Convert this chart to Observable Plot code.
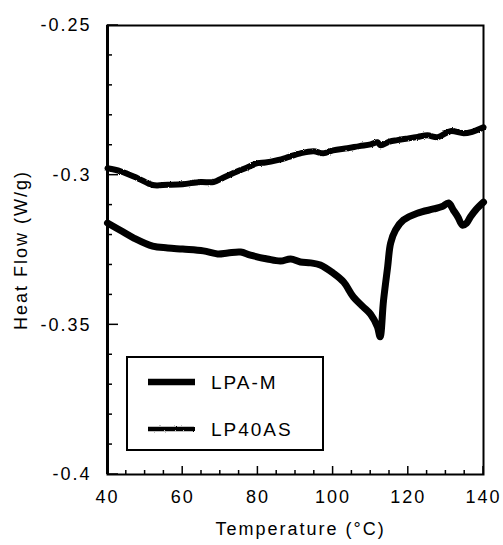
<!DOCTYPE html>
<html><head><meta charset="utf-8">
<script src="https://cdn.jsdelivr.net/npm/d3@7"></script>
<script src="https://cdn.jsdelivr.net/npm/@observablehq/plot@0.6"></script>
<style>
body{margin:0;background:#fff;}
#chart svg{display:block;}
</style></head><body><div id="chart"></div>
<script>
// ---- data ----
const seriesNames = ["LPA-M", "LP40AS"];
const tempLPAM = [40, 43.5, 47, 52, 56, 60, 65.5, 69.3, 72, 75.4, 78, 82.5, 86, 88.7, 91.3, 94, 96.6, 100, 102.8, 105.4, 108, 110, 111.8, 112.5, 113.4, 114.5, 115.3, 116.6, 118.7, 122.4, 126.7, 129, 130.7, 132, 133.2, 134.4, 135.5, 136.5, 138, 140];
const heatLPAM = [-0.316, -0.3185, -0.321, -0.3237, -0.3243, -0.3247, -0.3253, -0.3263, -0.326, -0.3257, -0.3267, -0.328, -0.3287, -0.328, -0.329, -0.3293, -0.33, -0.3327, -0.3357, -0.3407, -0.344, -0.3465, -0.3507, -0.354, -0.342, -0.3307, -0.3227, -0.3183, -0.315, -0.3127, -0.3113, -0.3105, -0.3093, -0.3117, -0.314, -0.3167, -0.316, -0.314, -0.3115, -0.309];
const tempLP40AS = [40, 43.5, 48, 52, 56, 60, 64.7, 68.2, 70.5, 73.5, 77, 79.9, 82, 85.2, 88, 91.3, 94.8, 97.4, 100, 103.8, 107, 110, 111.8, 112.6, 115, 117.1, 120, 122.5, 125.1, 127.8, 131.2, 134.7, 137, 140];
const heatLP40AS = [-0.2977, -0.2987, -0.301, -0.3033, -0.3032, -0.303, -0.3023, -0.3023, -0.301, -0.2993, -0.2975, -0.296, -0.2958, -0.295, -0.294, -0.2927, -0.292, -0.2927, -0.2917, -0.291, -0.2903, -0.2897, -0.289, -0.290, -0.2888, -0.2883, -0.2877, -0.2872, -0.2867, -0.2873, -0.2853, -0.286, -0.2855, -0.284];

const xTicks = [40, 60, 80, 100, 120, 140];
const xTickLabels = ["40", "60", "80", "100", "120", "140"];
const xMinorTicks = [45, 50, 55, 65, 70, 75, 85, 90, 95, 105, 110, 115, 125, 130, 135];
const yTicks = [-0.4, -0.35, -0.3, -0.25];
const yTickLabels = ["-0.4", "-0.35", "-0.3", "-0.25"];
const yMinorTicks = [-0.39, -0.38, -0.37, -0.36, -0.34, -0.33, -0.32, -0.31, -0.29, -0.28, -0.27, -0.26];
const xTitle = "Temperature (\u00B0C)";
const yTitle = "Heat Flow (W/g)";

const lpam = tempLPAM.map((t, i) => ({t, v: heatLPAM[i]}));
const lp40 = tempLP40AS.map((t, i) => ({t, v: heatLP40AS[i]}));

const font = "'Liberation Sans', Arial, Helvetica, sans-serif";

const chart = Plot.plot({
  width: 503, height: 545,
  marginLeft: 107, marginRight: 20, marginTop: 25, marginBottom: 71,
  style: {fontFamily: font, fontSize: "18px", color: "#000", background: "#fff", letterSpacing: "2px"},
  x: {domain: [40, 140]},
  y: {domain: [-0.4, -0.25]},
  marks: [
    Plot.axisX(xTicks, {tickSize: 0, tickPadding: 16, tickFormat: d => xTickLabels[xTicks.indexOf(d)], label: null, fontSize: 18}),
    Plot.axisY(yTicks, {tickSize: 0, tickPadding: 16, tickFormat: d => yTickLabels[yTicks.indexOf(d)], label: null, fontSize: 18}),
    Plot.frame({stroke: "#000", strokeWidth: 2}),
    Plot.ruleX([40], {stroke: "#000", strokeWidth: 3}),
    Plot.line(lpam, {x: "t", y: "v", stroke: "#000", strokeWidth: 7, strokeLinejoin: "round", strokeLinecap: "round", curve: "catmull-rom"}),
    Plot.line(lp40, {x: "t", y: "v", stroke: "#000", strokeWidth: 6, strokeLinejoin: "round", strokeLinecap: "round", curve: "catmull-rom"}),
    Plot.text([xTitle], {text: d => d, frameAnchor: "bottom", dy: 60, dx: 5, fontSize: 18}),
    Plot.text([yTitle], {text: d => d, frameAnchor: "left", textAnchor: "middle", rotate: -90, dx: -86, fontSize: 18})
  ]
});
document.getElementById("chart").appendChild(chart);

const svg = d3.select(chart);
const xs = chart.scale("x"), ys = chart.scale("y");
const sx = d3.scaleLinear().domain(xs.domain).range(xs.range);
const sy = d3.scaleLinear().domain(ys.domain).range(ys.range);
const x0 = sx(40), y0 = sy(-0.4);

// inward tick marks drawn from the plot's own scales
const tg = svg.append("g");
function tick(x1, y1, x2, y2) {
  tg.append("line").attr("x1", x1).attr("y1", y1).attr("x2", x2).attr("y2", y2)
    .attr("stroke", "#000").attr("stroke-width", 1.5);
}
xTicks.forEach(v => tick(sx(v), y0, sx(v), y0 - 8));
xMinorTicks.forEach(v => tick(sx(v), y0, sx(v), y0 - 4));
yTicks.forEach(v => tick(x0, sy(v), x0 + 11, sy(v)));
yMinorTicks.forEach(v => tick(x0, sy(v), x0 + 5, sy(v)));

// rough texture for the traced line
const defs = svg.insert("defs", ":first-child");
const f = defs.append("filter").attr("id", "rough").attr("filterUnits", "userSpaceOnUse")
  .attr("x", 0).attr("y", 0).attr("width", 503).attr("height", 545);
f.append("feTurbulence").attr("type", "fractalNoise").attr("baseFrequency", 0.9).attr("numOctaves", 1).attr("seed", 4).attr("result", "n");
f.append("feDisplacementMap").attr("in", "SourceGraphic").attr("in2", "n").attr("scale", 2.5).attr("xChannelSelector", "R").attr("yChannelSelector", "G");
const lines = svg.selectAll('g[aria-label="line"]').nodes();
if (lines[1]) d3.select(lines[1]).attr("filter", "url(#rough)");

// legend
const lg = svg.append("g").attr("font-family", font).attr("font-size", 19).attr("letter-spacing", "2px").attr("text-anchor", "start");
lg.append("rect").attr("x", 127).attr("y", 357).attr("width", 196).attr("height", 93)
  .attr("fill", "#fff").attr("stroke", "#000").attr("stroke-width", 2);
const widths = [6.5, 4.5];
seriesNames.forEach((name, i) => {
  const yy = 382 + i * 47;
  const ln = lg.append("line").attr("x1", 148).attr("x2", 195).attr("y1", yy).attr("y2", yy)
    .attr("stroke", "#000").attr("stroke-width", widths[i]);
  if (i === 1) ln.attr("filter", "url(#rough)");
  lg.append("text").attr("x", 211).attr("y", yy).attr("dy", "0.35em").attr("fill", "#000").attr("text-anchor", "start").text(name);
});
</script>
</body></html>
